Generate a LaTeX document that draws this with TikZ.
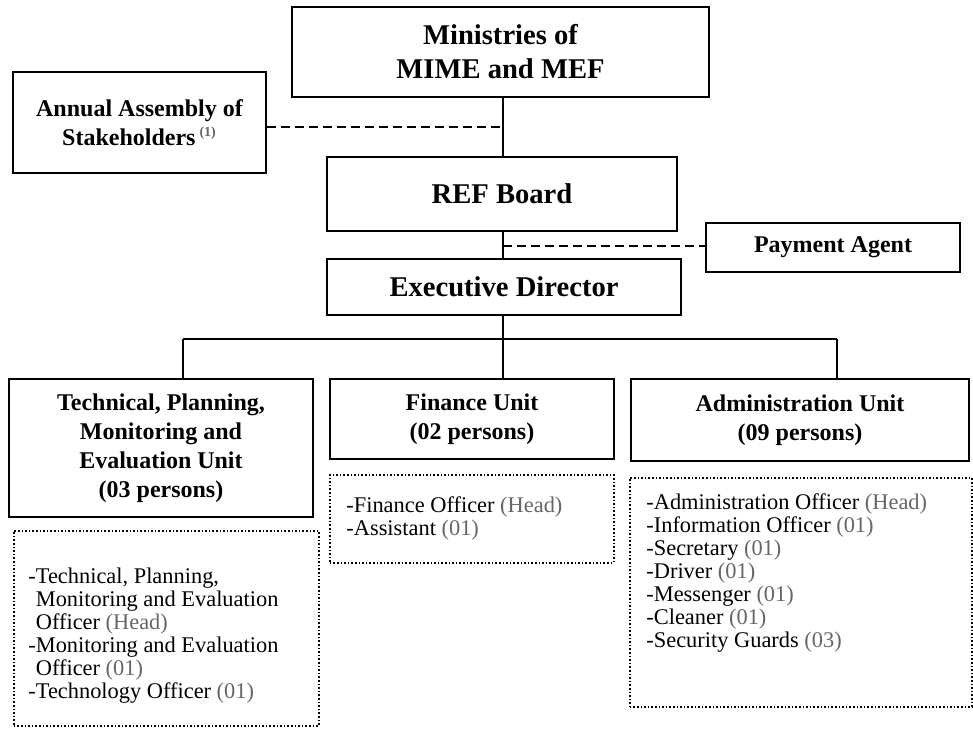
\documentclass[tikz,border=0pt]{standalone}
\usepackage{fontspec}
\setmainfont{Liberation Serif}
\usepackage{tikz}

\definecolor{countgray}{gray}{0.4}
\newcommand{\cnt}[1]{\textcolor{countgray}{#1}}

\tikzset{
  orgbox/.style={draw, line width=0.8pt, align=center, inner sep=2pt,
    font=\bfseries\fontsize{12}{14.5}\selectfont},
  topbox/.style={orgbox, font=\bfseries\fontsize{14.3}{17}\selectfont},
  listbox/.style={draw, densely dotted, line width=0.8pt, anchor=north west, inner sep=0pt},
  listtext/.style={anchor=north west, inner sep=0pt, align=left,
    font=\fontsize{11.2}{11.5}\selectfont},
  link/.style={line width=0.8pt},
  dashlink/.style={line width=0.7pt, dash pattern=on 4.5pt off 2.5pt}
}

\begin{document}
\begin{tikzpicture}[x=0.5pt,y=0.5pt,yscale=-1,xscale=1]
            \useasboundingbox (0,0) rectangle (973,728);

            % Top boxes
            \node [topbox, minimum width=208.5pt, minimum height=45pt] (mime) at (500.5,52) {Ministries of\\MIME and MEF};
            \node [orgbox, minimum width=126.5pt, minimum height=50.5pt] (asm) at (139.5,122.5) {Annual Assembly of\\Stakeholders\,\textsuperscript{\cnt{\fontsize{7}{7}\selectfont(1)}}};
            \node [topbox, minimum width=175pt, minimum height=37pt] (board) at (502,194) {REF Board};
            \node [topbox, minimum width=177pt, minimum height=28pt] (exec) at (504,287) {Executive Director};
            \node [orgbox, minimum width=127pt, minimum height=24.5pt] (agent) at (833,247.5) {Payment Agent};

            % Units
            \node [orgbox, minimum width=152pt, minimum height=69pt] (tech) at (161,448) {Technical, Planning,\\Monitoring and\\Evaluation Unit\\(03 persons)};
            \node [orgbox, minimum width=142pt, minimum height=40pt] (fin) at (472,419) {Finance Unit\\(02 persons)};
            \node [orgbox, minimum width=169pt, minimum height=41pt] (adm) at (800,420) {Administration Unit\\(09 persons)};

            % Staff lists
            \node [listbox, minimum width=152.5pt, minimum height=97.5pt] (techlist) at (13,530) {};
            \node [listtext] (techstaff) at (28,568) {-Technical, Planning,\\\hphantom{-}Monitoring and Evaluation\\\hphantom{-}Officer \cnt{(Head)}\\-Monitoring and Evaluation\\\hphantom{-}Officer \cnt{(01)}\\-Technology Officer \cnt{(01)}};
            \node [listbox, minimum width=142pt, minimum height=44pt] (finlist) at (329,474) {};
            \node [listtext] (finstaff) at (346,496) {-Finance Officer \cnt{(Head)}\\-Assistant \cnt{(01)}};
            \node [listbox, minimum width=171pt, minimum height=114.5pt] (admlist) at (629,477) {};
            \node [listtext] (admstaff) at (646,493) {-Administration Officer \cnt{(Head)}\\-Information Officer \cnt{(01)}\\-Secretary \cnt{(01)}\\-Driver \cnt{(01)}\\-Messenger \cnt{(01)}\\-Cleaner \cnt{(01)}\\-Security Guards \cnt{(03)}};

            % Lines
            \coordinate (asmjoin) at (503,127);
            \coordinate (agentjoin) at (503,246);
            \coordinate (busL) at (183,339);
            \coordinate (busM) at (503,339);
            \coordinate (busR) at (837,339);
            \draw [link] (mime.south -| asmjoin) -- (board.north -| asmjoin);
            \draw [link] (board.south -| agentjoin) -- (exec.north -| agentjoin);
            \draw [link] (exec.south -| busM) -- (busM);
            \draw [link] (busL) -- (busR);
            \draw [link] (busL) -- (busL |- tech.north);
            \draw [link] (busM) -- (busM |- fin.north);
            \draw [link] (busR) -- (busR |- adm.north);

            % Dashed links
            \draw [dashlink] (asm.east |- asmjoin) -- (asmjoin);
            \draw [dashlink] (agentjoin) -- (agent.west |- agentjoin);

\end{tikzpicture}
\end{document}
